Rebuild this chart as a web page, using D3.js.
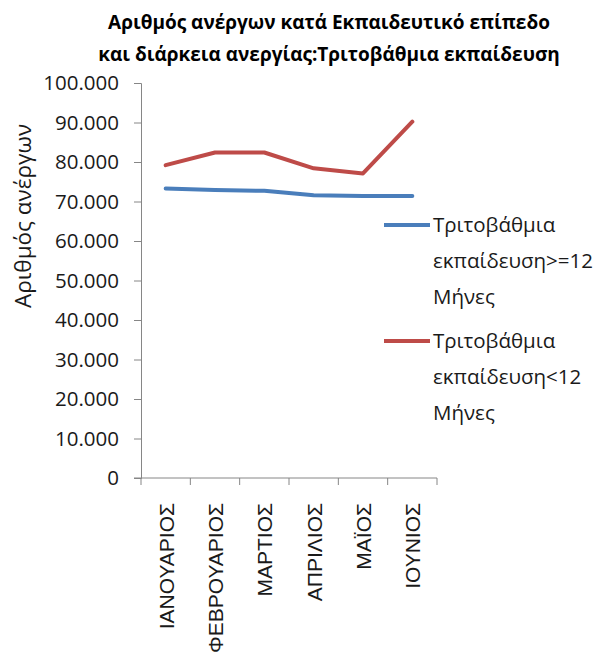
<!DOCTYPE html>
<html>
<head>
<meta charset="utf-8">
<script src="https://cdn.jsdelivr.net/npm/d3@7"></script>
<style>
  html, body { margin: 0; padding: 0; background: #fff; }
  svg { display: block; }
</style>
</head>
<body>
<svg id="chart" width="604" height="661"></svg>
<script>
// Months (x categories)
const months = ["ΙΑΝΟΥΑΡΙΟΣ", "ΦΕΒΡΟΥΑΡΙΟΣ", "ΜΑΡΤΙΟΣ", "ΑΠΡΙΛΙΟΣ", "ΜΑΪΟΣ", "ΙΟΥΝΙΟΣ"];

// Unemployed with tertiary education, by duration of unemployment
const longTerm = [73300, 72900, 72700, 71600, 71400, 71400];   // >=12 months
const shortTerm = [79200, 82400, 82400, 78400, 77100, 90200];  // <12 months

const seriesNames = [
  ["Τριτοβάθμια", "εκπαίδευση>=12", "Μήνες"],
  ["Τριτοβάθμια", "εκπαίδευση<12", "Μήνες"]
];
const seriesColors = ["#4A7EBB", "#BE4B48"];

const yTicks = [0, 10000, 20000, 30000, 40000, 50000, 60000, 70000, 80000, 90000, 100000];
const titleLines = ["Αριθμός ανέργων κατά Εκπαιδευτικό επίπεδο", "και διάρκεια ανεργίας:Τριτοβάθμια εκπαίδευση"];
const yTitle = "Αριθμός ανέργων";

const svg = d3.select("#chart");
const font = "Open Sans, Noto Sans, sans-serif";
const axisColor = "#868686";
const textColor = "#1a1a1a";

const plot = { left: 141, right: 437, top: 83, bottom: 478 };

const x = d3.scaleBand().domain(months).range([plot.left, plot.right]);
const y = d3.scaleLinear().domain([0, 100000]).range([plot.bottom, plot.top]);

// Title
svg.append("g").selectAll("text").data(titleLines).join("text")
  .attr("x", 329).attr("y", (d, i) => 29 + i * 32)
  .attr("text-anchor", "middle")
  .attr("font-family", font).attr("font-weight", "bold")
  .attr("font-size", 19).attr("fill", "#000")
  .text(d => d);

// Y axis
const fmt = v => v === 0 ? "0" : d3.format(",")(v).replace(/,/g, ".");
const yAxis = svg.append("g").attr("transform", `translate(${plot.left},0)`)
  .call(d3.axisLeft(y).tickValues(yTicks).tickSize(7).tickPadding(15).tickFormat(fmt));
yAxis.select(".domain").attr("stroke", axisColor);
yAxis.selectAll(".tick line").attr("stroke", axisColor);
yAxis.selectAll(".tick text").attr("font-family", font).attr("font-size", 20.5).attr("fill", textColor);

// X axis
const xAxis = svg.append("g").attr("transform", `translate(0,${plot.bottom})`)
  .call(d3.axisBottom(x).tickSize(0).tickFormat(""));
xAxis.select(".domain").attr("stroke", axisColor).attr("d", `M${plot.left - 7},0H${plot.right}`);
xAxis.selectAll(".tick").remove();
const bounds = months.map(m => x(m)).concat([plot.right]);
xAxis.selectAll("line.boundary").data(bounds).join("line")
  .attr("class", "boundary")
  .attr("x1", d => d).attr("x2", d => d)
  .attr("y1", 0).attr("y2", 7)
  .attr("stroke", axisColor);

// X labels, rotated
svg.append("g").selectAll("text").data(months).join("text")
  .attr("transform", d => `translate(${x(d) + x.bandwidth() / 2 + 8},503) rotate(-90)`)
  .attr("text-anchor", "end")
  .attr("font-family", "Liberation Sans, Arial, sans-serif")
  .attr("font-size", 21).attr("fill", textColor)
  .text(d => d);

// Y axis title
svg.append("text")
  .attr("transform", "translate(31,216) rotate(-90)")
  .attr("text-anchor", "middle")
  .attr("font-family", font).attr("font-size", 22.5).attr("fill", textColor)
  .text(yTitle);

// Lines
const line = d3.line()
  .x((d, i) => x(months[i]) + x.bandwidth() / 2)
  .y(d => y(d));

[longTerm, shortTerm].forEach((vals, k) => {
  svg.append("path")
    .datum(vals)
    .attr("d", line)
    .attr("fill", "none")
    .attr("stroke", seriesColors[k])
    .attr("stroke-width", 4)
    .attr("stroke-linejoin", "round")
    .attr("stroke-linecap", "round");
});

// Legend
const legend = svg.append("g");
const legendY = [225, 341];
seriesNames.forEach((lines, k) => {
  legend.append("line")
    .attr("x1", 384).attr("x2", 430)
    .attr("y1", legendY[k]).attr("y2", legendY[k])
    .attr("stroke", seriesColors[k]).attr("stroke-width", 4);
  legend.append("g").selectAll("text").data(lines).join("text")
    .attr("x", 433).attr("y", (d, i) => legendY[k] + 7 + i * 36)
    .attr("font-family", font).attr("font-size", 20.5).attr("fill", textColor)
    .text(d => d);
});
</script>
</body>
</html>
